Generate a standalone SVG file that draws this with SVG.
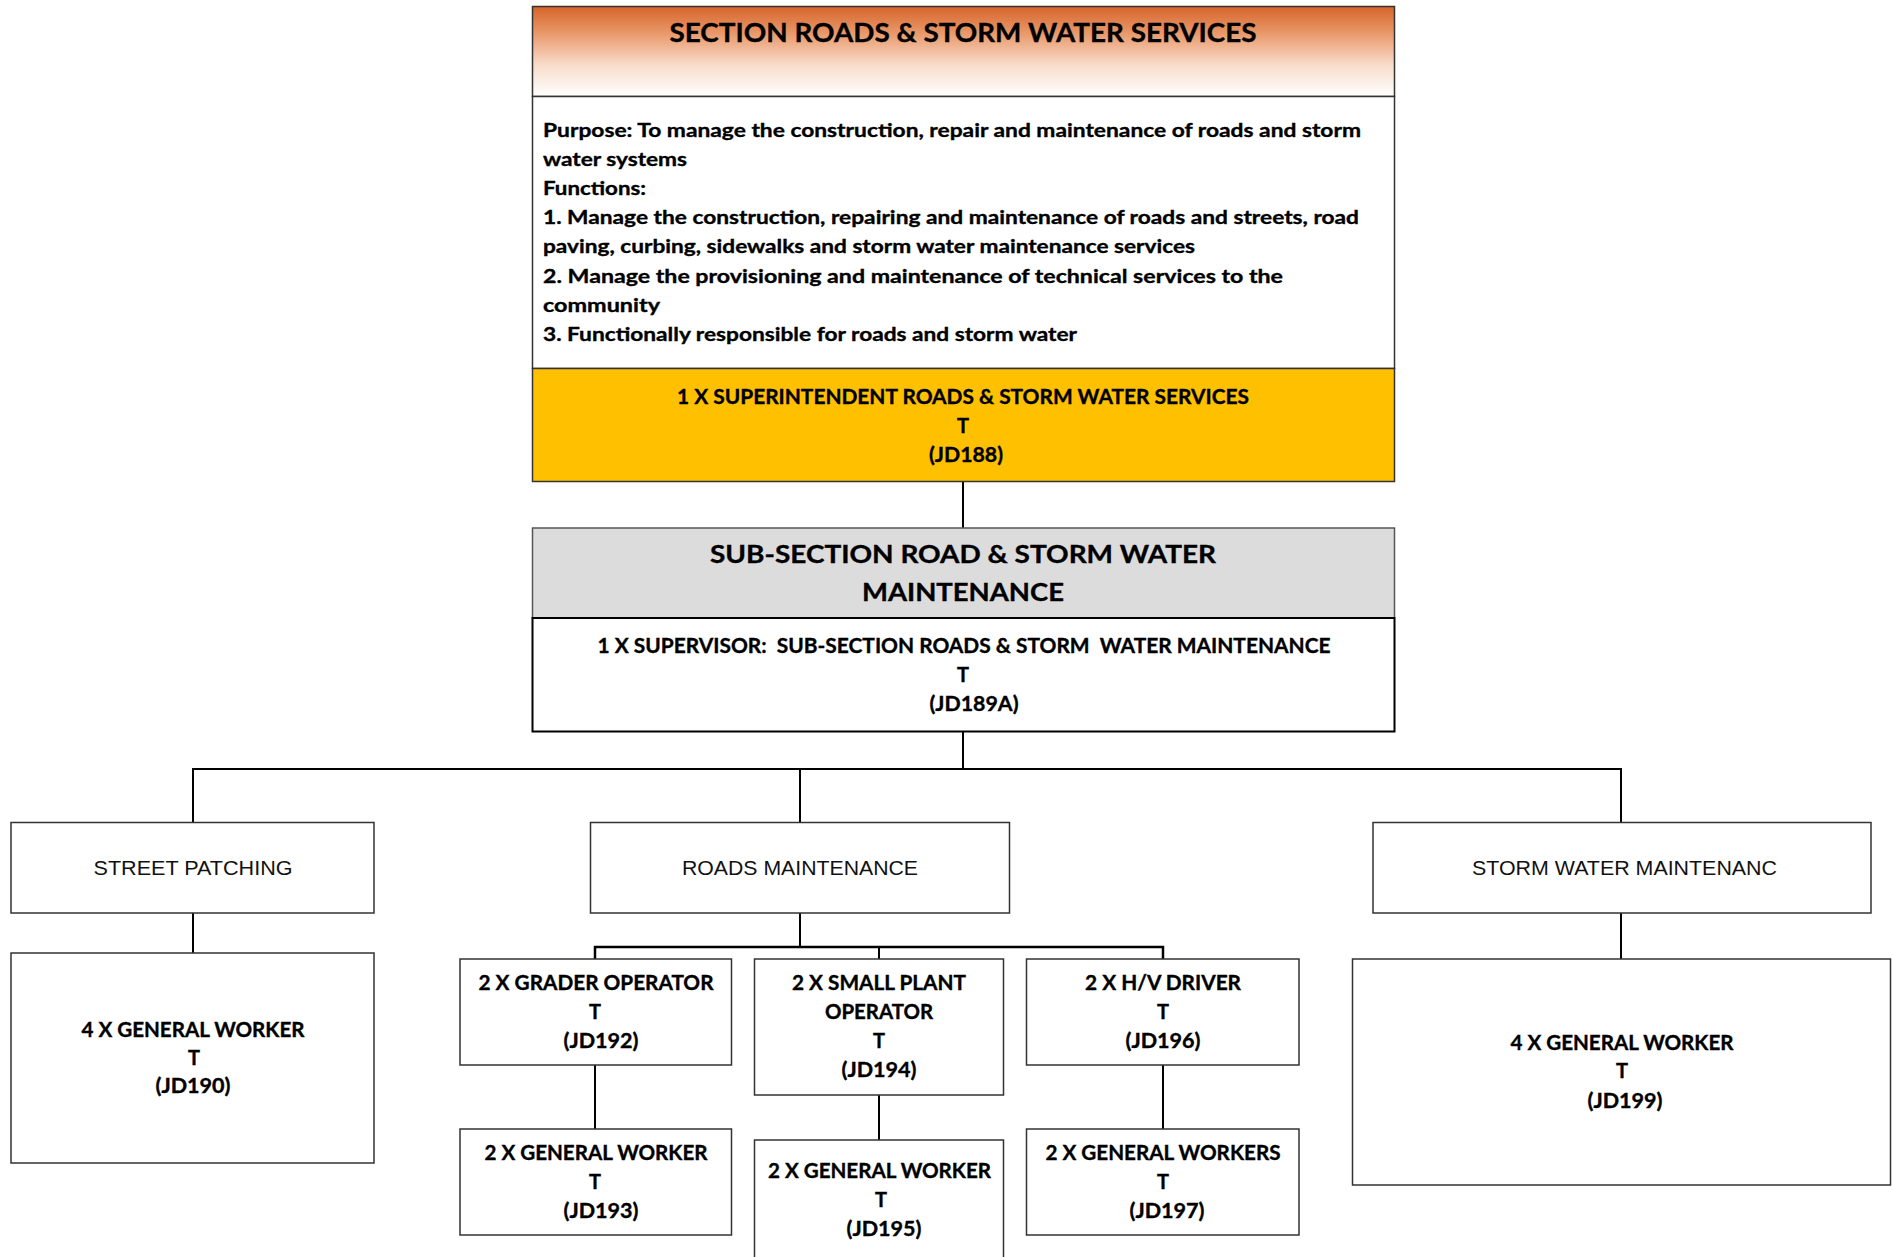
<svg xmlns="http://www.w3.org/2000/svg" width="1893" height="1257" viewBox="0 0 1893 1257">
  <defs>
    <linearGradient id="hdrGrad" x1="0" y1="0" x2="0" y2="1">
      <stop offset="0" stop-color="#D6632A"/>
      <stop offset="0.3" stop-color="#E9996B"/>
      <stop offset="0.65" stop-color="#F8DCCB"/>
      <stop offset="1" stop-color="#FFFFFF"/>
    </linearGradient>
    <style>
      .box { fill: #FFFFFF; stroke: #333333; stroke-width: 1.5; }
      .boxB { fill: #FFFFFF; stroke: #000000; stroke-width: 2; }
      .wire { fill: none; stroke: #000000; stroke-width: 2; }
      .b { font-family: Lato, "Open Sans", "Liberation Sans", sans-serif; font-weight: 700; fill: #000000; stroke: #000000; stroke-width: 0.35; }
      .c { text-anchor: middle; }
      .s20 { font-size: 20px; }
      .arial { font-family: "Liberation Sans", Arial, sans-serif; font-size: 21px; fill: #111111; text-anchor: middle; }
    </style>
  </defs>

  <!-- connectors -->
  <g id="connectors">
    <line class="wire" x1="963" y1="482" x2="963" y2="528"/>
    <polyline class="wire" points="963,732 963,769"/>
    <polyline class="wire" points="193,822 193,769 1621,769 1621,822"/>
    <line class="wire" x1="800" y1="769" x2="800" y2="822"/>
    <line class="wire" x1="193" y1="913" x2="193" y2="953"/>
    <line class="wire" x1="800" y1="913" x2="800" y2="947"/>
    <polyline class="wire" style="stroke-width:2.5" points="595,959 595,947 1163,947 1163,959"/>
    <line class="wire" x1="879" y1="947" x2="879" y2="959"/>
    <line class="wire" x1="595" y1="1065" x2="595" y2="1129"/>
    <line class="wire" x1="879" y1="1095" x2="879" y2="1140"/>
    <line class="wire" x1="1163" y1="1065" x2="1163" y2="1129"/>
    <line class="wire" x1="1621" y1="913" x2="1621" y2="959"/>
  </g>

  <!-- section header, purpose and functions -->
  <g id="section">
    <rect x="532.5" y="6.5" width="862" height="90" fill="url(#hdrGrad)" stroke="#333333" stroke-width="1.5"/>
    <text class="b c" x="963" y="42" font-size="27" textLength="587" lengthAdjust="spacingAndGlyphs">SECTION ROADS &amp; STORM WATER SERVICES</text>
    <rect class="box" x="532.5" y="96.5" width="862" height="272"/>
    <g class="b" font-size="19.5">
      <text x="543" y="137" textLength="818" lengthAdjust="spacingAndGlyphs">Purpose: To manage the construction, repair and maintenance of roads and storm</text>
      <text x="543" y="166" textLength="144" lengthAdjust="spacingAndGlyphs">water systems</text>
      <text x="543" y="195" textLength="103" lengthAdjust="spacingAndGlyphs">Functions:</text>
      <text x="543" y="224" textLength="816" lengthAdjust="spacingAndGlyphs">1. Manage the construction, repairing and maintenance of roads and streets, road</text>
      <text x="543" y="253" textLength="652" lengthAdjust="spacingAndGlyphs">paving, curbing, sidewalks and storm water maintenance services</text>
      <text x="543" y="283" textLength="740" lengthAdjust="spacingAndGlyphs">2. Manage the provisioning and maintenance of technical services to the</text>
      <text x="543" y="312" textLength="117" lengthAdjust="spacingAndGlyphs">community</text>
      <text x="543" y="341" textLength="534" lengthAdjust="spacingAndGlyphs">3. Functionally responsible for roads and storm water</text>
    </g>
  </g>

  <g id="superintendent">
    <rect x="532.5" y="368.5" width="862" height="113" fill="#FFC000" stroke="#333333" stroke-width="1.5"/>
    <text class="b c s20" x="963" y="404" textLength="572" lengthAdjust="spacingAndGlyphs">1 X SUPERINTENDENT ROADS &amp; STORM WATER SERVICES</text>
    <text class="b c s20" x="963" y="433">T</text>
    <text class="b c s20" x="966" y="462" textLength="74" lengthAdjust="spacingAndGlyphs">(JD188)</text>
  </g>

  <!-- sub-section -->
  <g id="subsection">
    <rect x="532.5" y="528" width="862" height="90" fill="#DCDCDC" stroke="#555555" stroke-width="1.5"/>
    <text class="b c" x="963" y="563" font-size="25.5" textLength="506" lengthAdjust="spacingAndGlyphs">SUB-SECTION ROAD &amp; STORM WATER</text>
    <text class="b c" x="963" y="601" font-size="25.5" textLength="202" lengthAdjust="spacingAndGlyphs">MAINTENANCE</text>
  </g>

  <g id="supervisor">
    <rect class="boxB" x="532.5" y="618" width="862" height="113.5"/>
    <text class="b c s20" x="964" y="653" textLength="733" lengthAdjust="spacingAndGlyphs" xml:space="preserve">1 X SUPERVISOR:  SUB-SECTION ROADS &amp; STORM  WATER MAINTENANCE</text>
    <text class="b c s20" x="963" y="682">T</text>
    <text class="b c s20" x="974" y="711" textLength="89" lengthAdjust="spacingAndGlyphs">(JD189A)</text>
  </g>

  <!-- units -->
  <g id="street-patching">
    <rect class="box" x="11" y="822.5" width="363" height="90.5"/>
    <text class="arial" x="193" y="875" textLength="199" lengthAdjust="spacingAndGlyphs">STREET PATCHING</text>
  </g>
  <g id="roads-maintenance">
    <rect class="box" x="590.5" y="822.5" width="419" height="90.5"/>
    <text class="arial" x="800" y="875" textLength="236" lengthAdjust="spacingAndGlyphs">ROADS MAINTENANCE</text>
  </g>
  <g id="storm-water-maintenance">
    <rect class="box" x="1373" y="822.5" width="498" height="90.5"/>
    <text class="arial" x="1624.5" y="875" textLength="305" lengthAdjust="spacingAndGlyphs">STORM WATER MAINTENANC</text>
  </g>

  <!-- street patching staff -->
  <g id="jd190">
    <rect class="box" x="11" y="953" width="363" height="210"/>
    <text class="b c s20" x="193" y="1037" textLength="223" lengthAdjust="spacingAndGlyphs">4 X GENERAL WORKER</text>
    <text class="b c s20" x="194" y="1065">T</text>
    <text class="b c s20" x="193" y="1093" textLength="75" lengthAdjust="spacingAndGlyphs">(JD190)</text>
  </g>

  <!-- roads maintenance staff -->
  <g id="jd192">
    <rect class="box" x="460" y="959" width="271.5" height="106"/>
    <text class="b c s20" x="596" y="990" textLength="235" lengthAdjust="spacingAndGlyphs">2 X GRADER OPERATOR</text>
    <text class="b c s20" x="595" y="1019">T</text>
    <text class="b c s20" x="601" y="1048" textLength="75" lengthAdjust="spacingAndGlyphs">(JD192)</text>
  </g>
  <g id="jd194">
    <rect class="box" x="754.5" y="959" width="249" height="136"/>
    <text class="b c s20" x="879" y="990" textLength="174" lengthAdjust="spacingAndGlyphs">2 X SMALL PLANT</text>
    <text class="b c s20" x="879" y="1019" textLength="108" lengthAdjust="spacingAndGlyphs">OPERATOR</text>
    <text class="b c s20" x="879" y="1048">T</text>
    <text class="b c s20" x="879" y="1077" textLength="75" lengthAdjust="spacingAndGlyphs">(JD194)</text>
  </g>
  <g id="jd196">
    <rect class="box" x="1026.5" y="959" width="272.5" height="106"/>
    <text class="b c s20" x="1163" y="990" textLength="156" lengthAdjust="spacingAndGlyphs">2 X H/V DRIVER</text>
    <text class="b c s20" x="1163" y="1019">T</text>
    <text class="b c s20" x="1163" y="1048" textLength="75" lengthAdjust="spacingAndGlyphs">(JD196)</text>
  </g>
  <g id="jd193">
    <rect class="box" x="460" y="1129" width="271.5" height="106"/>
    <text class="b c s20" x="596" y="1160" textLength="223" lengthAdjust="spacingAndGlyphs">2 X GENERAL WORKER</text>
    <text class="b c s20" x="595" y="1189">T</text>
    <text class="b c s20" x="601" y="1218" textLength="75" lengthAdjust="spacingAndGlyphs">(JD193)</text>
  </g>
  <g id="jd195">
    <rect class="box" x="754.5" y="1140" width="249" height="130"/>
    <text class="b c s20" x="879.5" y="1178" textLength="223" lengthAdjust="spacingAndGlyphs">2 X GENERAL WORKER</text>
    <text class="b c s20" x="881" y="1207">T</text>
    <text class="b c s20" x="884" y="1236" textLength="75" lengthAdjust="spacingAndGlyphs">(JD195)</text>
  </g>
  <g id="jd197">
    <rect class="box" x="1026.5" y="1129" width="272.5" height="106"/>
    <text class="b c s20" x="1163" y="1160" textLength="235" lengthAdjust="spacingAndGlyphs">2 X GENERAL WORKERS</text>
    <text class="b c s20" x="1163" y="1189">T</text>
    <text class="b c s20" x="1167" y="1218" textLength="75" lengthAdjust="spacingAndGlyphs">(JD197)</text>
  </g>

  <!-- storm water staff -->
  <g id="jd199">
    <rect class="box" x="1352.5" y="959" width="538" height="226"/>
    <text class="b c s20" x="1622" y="1050" textLength="223" lengthAdjust="spacingAndGlyphs">4 X GENERAL WORKER</text>
    <text class="b c s20" x="1622" y="1078">T</text>
    <text class="b c s20" x="1625" y="1108" textLength="75" lengthAdjust="spacingAndGlyphs">(JD199)</text>
  </g>
</svg>
